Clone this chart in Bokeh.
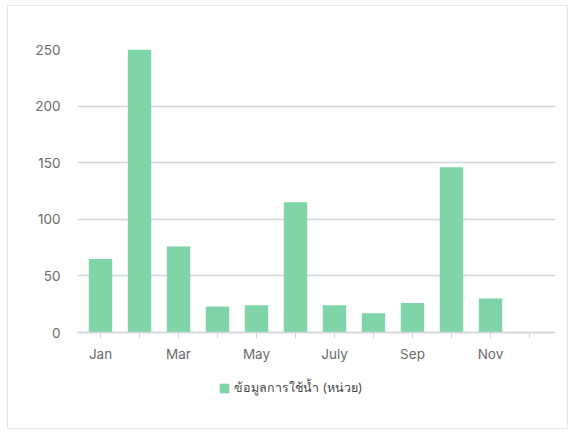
from bokeh.plotting import figure
from bokeh.models import Range1d, FixedTicker, Legend, LegendItem, ColumnDataSource
from bokeh.embed import file_html
from bokeh.resources import INLINE

months = ["Jan", "Feb", "Mar", "Apr", "May", "June", "July", "Aug", "Sep", "Oct", "Nov", "Dec"]
shown_labels = ["Jan", "Mar", "May", "July", "Sep", "Nov"]
usage = [65, 250, 76, 23, 24, 115, 24, 17, 26, 146, 30, 0]
y_ticks = [0, 50, 100, 150, 200, 250]
series_name = "ข้อมูลการใช้น้ำ (หน่วย)"

BAR = "#7fd4a8"
GRID = "#d2d7dd"
TEXT = "#6b6b6b"
FONT = "Inter"

idx = list(range(len(months)))
src = ColumnDataSource(dict(x=idx, month=months, usage=usage))

p = figure(frame_width=478, frame_height=349, output_backend="svg", toolbar_location=None,
           x_range=Range1d(-0.59, 11.667), y_range=Range1d(-58.3, 250),
           min_border_left=69, min_border_right=12, min_border_top=43, min_border_bottom=30)
p.styles = {"border": "1px solid #e9e9e9", "box-sizing": "border-box",
            "position": "relative", "left": "7px", "top": "5px"}
p.outline_line_color = None

bars = p.vbar(x="x", top="usage", width=0.6, bottom=0, source=src,
              fill_color=BAR, line_color=None)

# x axis, drawn at value 0
p.xaxis.fixed_location = 0
p.xaxis.ticker = FixedTicker(ticks=idx)
p.xaxis.major_label_overrides = {i: (m if m in shown_labels else "") for i, m in zip(idx, months)}
p.xaxis.axis_line_color = GRID
p.xaxis.axis_line_width = 1.5
p.xaxis.major_tick_line_color = GRID
p.xaxis.major_tick_out = 6
p.xaxis.major_tick_in = 0
p.xaxis.minor_tick_line_color = None
p.xaxis.major_label_standoff = 7
p.xaxis.major_label_text_font = FONT
p.xaxis.major_label_text_font_size = "13.5px"
p.xaxis.major_label_text_color = TEXT

# y axis
p.yaxis.ticker = FixedTicker(ticks=y_ticks)
p.yaxis.axis_line_color = None
p.yaxis.major_tick_line_color = None
p.yaxis.minor_tick_line_color = None
p.yaxis.major_label_standoff = 11
p.yaxis.major_label_text_font = FONT
p.yaxis.major_label_text_font_size = "13.5px"
p.yaxis.major_label_text_color = TEXT

p.xgrid.grid_line_color = None
p.ygrid.grid_line_color = GRID
p.ygrid.grid_line_width = 1.5
p.ygrid.ticker = FixedTicker(ticks=y_ticks)

legend = Legend(items=[LegendItem(label=series_name, renderers=[bars])],
                location=(141, 0), orientation="horizontal",
                padding=2, margin=0, border_line_color=None, background_fill_alpha=0,
                glyph_width=12, glyph_height=12, label_standoff=4,
                label_text_font=FONT, label_text_font_size="12.5px",
                label_text_color="#4a4a4a")
p.add_layout(legend, "center")

open("out.html", "w").write(file_html(p, INLINE))
